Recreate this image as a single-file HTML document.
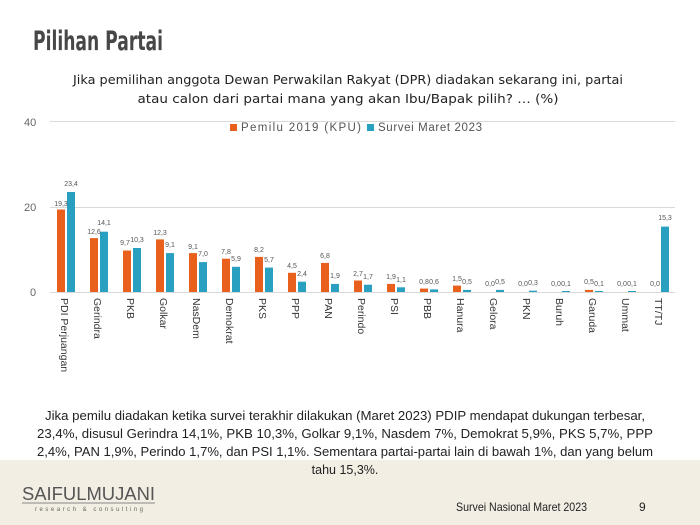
<!DOCTYPE html>
<html><head><meta charset="utf-8"><style>
html,body{margin:0;padding:0;background:#fff}
svg{display:block;font-family:"Liberation Sans",sans-serif}
</style></head><body>
<svg width="700" height="525" viewBox="0 0 700 525" xmlns="http://www.w3.org/2000/svg">
<rect x="0" y="0" width="700" height="525" fill="#fff"/>
<rect x="0" y="460" width="700" height="65" fill="#f3eee4"/>
<text x="33" y="50" font-size="27" font-weight="bold" fill="#474747" textLength="130" lengthAdjust="spacingAndGlyphs" font-family="DejaVu Sans, sans-serif">Pilihan Partai</text>
<g font-size="12.5" fill="#222" text-anchor="middle" font-family="DejaVu Sans, sans-serif">
<text x="348" y="84" textLength="550" lengthAdjust="spacingAndGlyphs">Jika pemilihan anggota Dewan Perwakilan Rakyat (DPR) diadakan sekarang ini, partai</text>
<text x="348" y="103" textLength="421" lengthAdjust="spacingAndGlyphs">atau calon dari partai mana yang akan Ibu/Bapak pilih?  … (%)</text>
</g>
<g stroke="#d9d9d9" stroke-width="1">
<line x1="50" y1="121.5" x2="675" y2="121.5"/>
<line x1="50" y1="207.5" x2="675" y2="207.5"/>
<line x1="50" y1="292.5" x2="675" y2="292.5"/>
</g>
<g font-size="11" fill="#666">
<text x="24" y="126">40</text><text x="24" y="211">20</text><text x="30" y="296">0</text>
</g>
<rect x="230" y="124" width="7" height="7" fill="#e8601c"/>
<text x="241" y="131" font-size="11.5" fill="#555" textLength="120" lengthAdjust="spacing">Pemilu 2019 (KPU)</text>
<rect x="367" y="124" width="7" height="7" fill="#29a0c0"/>
<text x="378" y="131" font-size="11.5" fill="#555" textLength="104" lengthAdjust="spacing">Survei Maret 2023</text>
<g fill="#e8601c">
<rect x="57" y="209.5" width="8" height="82.5"/>
<rect x="90" y="238.1" width="8" height="53.9"/>
<rect x="123" y="250.5" width="8" height="41.5"/>
<rect x="156" y="239.4" width="8" height="52.6"/>
<rect x="189" y="253.1" width="8" height="38.9"/>
<rect x="222" y="258.7" width="8" height="33.3"/>
<rect x="255" y="256.9" width="8" height="35.1"/>
<rect x="288" y="272.8" width="8" height="19.2"/>
<rect x="321" y="262.9" width="8" height="29.1"/>
<rect x="354" y="280.5" width="8" height="11.5"/>
<rect x="387" y="283.9" width="8" height="8.1"/>
<rect x="420" y="288.6" width="8" height="3.4"/>
<rect x="453" y="285.6" width="8" height="6.4"/>
<rect x="585" y="289.9" width="8" height="2.1"/>
</g>
<g fill="#29a0c0">
<rect x="67" y="192" width="8" height="100"/>
<rect x="100" y="231.7" width="8" height="60.3"/>
<rect x="133" y="248" width="8" height="44"/>
<rect x="166" y="253.1" width="8" height="38.9"/>
<rect x="199" y="262.1" width="8" height="29.9"/>
<rect x="232" y="266.8" width="8" height="25.2"/>
<rect x="265" y="267.6" width="8" height="24.4"/>
<rect x="298" y="281.7" width="8" height="10.3"/>
<rect x="331" y="283.9" width="8" height="8.1"/>
<rect x="364" y="284.7" width="8" height="7.3"/>
<rect x="397" y="287.3" width="8" height="4.7"/>
<rect x="430" y="289.4" width="8" height="2.6"/>
<rect x="463" y="289.9" width="8" height="2.1"/>
<rect x="496" y="289.9" width="8" height="2.1"/>
<rect x="529" y="290.7" width="8" height="1.3"/>
<rect x="562" y="291" width="8" height="1"/>
<rect x="595" y="291" width="8" height="1"/>
<rect x="628" y="291" width="8" height="1"/>
<rect x="661" y="226.6" width="8" height="65.4"/>
</g>
<g font-size="7" fill="#555" text-anchor="middle">
<text x="61" y="206">19,3</text><text x="71" y="186">23,4</text>
<text x="94" y="234">12,6</text><text x="104" y="225">14,1</text>
<text x="125" y="245">9,7</text><text x="137" y="242">10,3</text>
<text x="160" y="235">12,3</text><text x="170" y="247">9,1</text>
<text x="193" y="249">9,1</text><text x="203" y="256">7,0</text>
<text x="226" y="254">7,8</text><text x="236" y="261">5,9</text>
<text x="259" y="252">8,2</text><text x="269" y="262">5,7</text>
<text x="292" y="268">4,5</text><text x="302" y="276">2,4</text>
<text x="325" y="258">6,8</text><text x="335" y="278">1,9</text>
<text x="358" y="276">2,7</text><text x="368" y="279">1,7</text>
<text x="391" y="279">1,9</text><text x="401" y="282">1,1</text>
<text x="424" y="284">0,8</text><text x="434" y="284">0,6</text>
<text x="457" y="281">1,5</text><text x="467" y="284">0,5</text>
<text x="490" y="286">0,0</text><text x="500" y="284">0,5</text>
<text x="523" y="286">0,0</text><text x="533" y="285">0,3</text>
<text x="556" y="286">0,0</text><text x="566" y="286">0,1</text>
<text x="589" y="284">0,5</text><text x="599" y="286">0,1</text>
<text x="622" y="286">0,0</text><text x="632" y="286">0,1</text>
<text x="655" y="286">0,0</text><text x="665" y="220">15,3</text>
</g>
<g font-size="10.5" fill="#333">
<text transform="translate(61,298) rotate(90)">PDI Perjuangan</text>
<text transform="translate(94,298) rotate(90)">Gerindra</text>
<text transform="translate(127,298) rotate(90)">PKB</text>
<text transform="translate(160,298) rotate(90)">Golkar</text>
<text transform="translate(193,298) rotate(90)">NasDem</text>
<text transform="translate(226,298) rotate(90)">Demokrat</text>
<text transform="translate(259,298) rotate(90)">PKS</text>
<text transform="translate(292,298) rotate(90)">PPP</text>
<text transform="translate(325,298) rotate(90)">PAN</text>
<text transform="translate(358,298) rotate(90)">Perindo</text>
<text transform="translate(391,298) rotate(90)">PSI</text>
<text transform="translate(424,298) rotate(90)">PBB</text>
<text transform="translate(457,298) rotate(90)">Hanura</text>
<text transform="translate(490,298) rotate(90)">Gelora</text>
<text transform="translate(523,298) rotate(90)">PKN</text>
<text transform="translate(556,298) rotate(90)">Buruh</text>
<text transform="translate(589,298) rotate(90)">Garuda</text>
<text transform="translate(622,298) rotate(90)">Ummat</text>
<text transform="translate(655,298) rotate(90)">TT/TJ</text>
</g>
<g font-size="12.5" fill="#222" text-anchor="middle">
<text x="345" y="420" textLength="600" lengthAdjust="spacingAndGlyphs">Jika pemilu diadakan ketika survei terakhir dilakukan (Maret 2023) PDIP mendapat dukungan terbesar,</text>
<text x="345" y="438" textLength="616" lengthAdjust="spacingAndGlyphs">23,4%, disusul Gerindra 14,1%, PKB 10,3%, Golkar 9,1%, Nasdem 7%, Demokrat 5,9%, PKS 5,7%, PPP</text>
<text x="345" y="456" textLength="616" lengthAdjust="spacingAndGlyphs">2,4%, PAN 1,9%, Perindo 1,7%, dan PSI 1,1%. Sementara partai-partai lain di bawah 1%, dan yang belum</text>
<text x="345" y="474">tahu 15,3%.</text>
</g>
<text x="22" y="500" font-size="18" fill="#555" textLength="133" lengthAdjust="spacingAndGlyphs">SAIFULMUJANI</text>
<line x1="22" y1="503" x2="155" y2="503" stroke="#888" stroke-width="1"/>
<text x="35" y="511" font-size="6" fill="#666" textLength="108" lengthAdjust="spacing">research &amp; consulting</text>
<text x="456" y="511" font-size="12" fill="#222" textLength="131" lengthAdjust="spacingAndGlyphs">Survei Nasional Maret 2023</text>
<text x="639" y="511" font-size="12" fill="#222">9</text>
</svg>
</body></html>
